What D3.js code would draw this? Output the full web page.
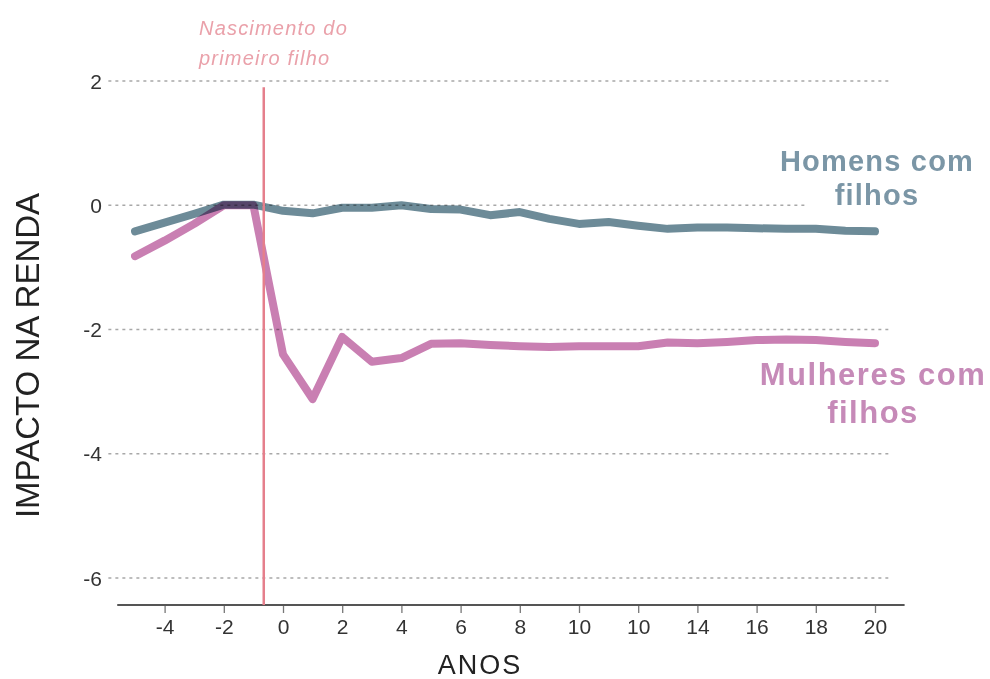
<!DOCTYPE html>
<html>
<head>
<meta charset="utf-8">
<script src="https://cdn.jsdelivr.net/npm/d3@7"></script>
<style>
  html, body { margin: 0; padding: 0; background: #fff; }
  svg { display: block; font-family: "Liberation Sans", Arial, sans-serif; }
</style>
</head>
<body>
<svg id="chart" width="990" height="679"></svg>
<script>
// ---- data ----
const years = [-5,-4,-3,-2,-1,0,1,2,3,4,5,6,7,8,9,10,11,12,13,14,15,16,17,18,19,20];
const men   = [-0.42,-0.28,-0.14,0.01,0.01,-0.09,-0.13,-0.04,-0.04,0.0,-0.06,-0.07,-0.16,-0.11,-0.22,-0.30,-0.27,-0.33,-0.38,-0.36,-0.36,-0.37,-0.38,-0.38,-0.41,-0.42];
const women = [-0.82,-0.57,-0.30,0.0,0.0,-2.40,-3.12,-2.12,-2.52,-2.46,-2.23,-2.22,-2.25,-2.27,-2.28,-2.27,-2.27,-2.27,-2.21,-2.22,-2.20,-2.17,-2.16,-2.17,-2.20,-2.22];
const xTickValues = [-4,-2,0,2,4,6,8,10,12,14,16,18,20];
const xTickLabels = ["-4","-2","0","2","4","6","8","10","10","14","16","18","20"];
const yTickValues = [2,0,-2,-4,-6];
const yTickLabels = ["2","0","-2","-4","-6"];
const birthYear = -0.65;

// ---- layout ----
const svg = d3.select("#chart");
const x = d3.scaleLinear().domain([0, 20]).range([283, 875]);
const y = d3.scaleLinear().domain([2, -6]).range([81, 578]);
const axisY = 605;

// gridlines
const gridColor = "#a8a8a8";
yTickValues.forEach(v => {
  svg.append("line")
    .attr("x1", x(-5.9)).attr("x2", x(20.45))
    .attr("y1", y(v)).attr("y2", y(v))
    .attr("stroke", gridColor).attr("stroke-width", 1.6)
    .attr("stroke-dasharray", "3,4");
});

// y tick labels
svg.append("g").selectAll("text").data(yTickValues).join("text")
  .attr("x", 102).attr("y", d => y(d))
  .attr("dy", "0.36em")
  .attr("text-anchor", "end")
  .attr("font-size", 21).attr("fill", "#333")
  .text((d,i) => yTickLabels[i]);

// x axis
const xAxis = d3.axisBottom(x)
  .tickValues(xTickValues)
  .tickSize(8)
  .tickPadding(6)
  .tickFormat((d,i) => xTickLabels[i]);
const gx = svg.append("g").attr("transform", `translate(0,${axisY})`).call(xAxis);
gx.select(".domain").remove();
gx.append("line").attr("x1", x(-5.6)).attr("x2", x(21)).attr("stroke", "#555").attr("stroke-width", 2);
gx.selectAll(".tick line").attr("stroke", "#777").attr("stroke-width", 1.3);
gx.selectAll(".tick text").attr("font-size", 21).attr("fill", "#333")
  .attr("font-family", '"Liberation Sans", Arial, sans-serif');

// axis titles
svg.append("text")
  .attr("x", 480).attr("y", 674)
  .attr("text-anchor", "middle")
  .attr("font-size", 27).attr("fill", "#222")
  .attr("letter-spacing", 2)
  .text("ANOS");
svg.append("text")
  .attr("transform", `translate(39,${(183+528)/2}) rotate(-90)`)
  .attr("text-anchor", "middle")
  .attr("font-size", 33).attr("fill", "#222")
  .text("IMPACTO NA RENDA");

// lines
const line = d3.line().x((d,i) => x(years[i])).y(d => y(d));
svg.append("path").datum(women)
  .attr("d", line).attr("fill", "none")
  .attr("stroke", "#c97fb2").attr("stroke-width", 8)
  .attr("stroke-linecap", "round").attr("stroke-linejoin", "round")
  .style("mix-blend-mode", "multiply");
svg.append("path").datum(men)
  .attr("d", line).attr("fill", "none")
  .attr("stroke", "#6d8b98").attr("stroke-width", 8)
  .attr("stroke-linecap", "round").attr("stroke-linejoin", "round")
  .style("mix-blend-mode", "multiply");

// birth line
svg.append("line")
  .attr("x1", x(birthYear)).attr("x2", x(birthYear))
  .attr("y1", y(1.9)).attr("y2", axisY)
  .attr("stroke", "#e57f8c").attr("stroke-width", 2.5);

// annotation
const ann = svg.append("text")
  .attr("font-size", 20).attr("font-style", "italic")
  .attr("fill", "#eaa1aa").attr("letter-spacing", 1.2);
ann.append("tspan").attr("x", 199).attr("y", 35).text("Nascimento do");
ann.append("tspan").attr("x", 199).attr("y", 65).text("primeiro filho");

// series labels
function label(lines, cx, baselines, size, ls, color, bg) {
  const g = svg.append("g");
  lines.forEach((t, i) => {
    const tx = g.append("text")
      .attr("x", cx).attr("y", baselines[i])
      .attr("text-anchor", "middle")
      .attr("font-size", size).attr("font-weight", "bold")
      .attr("letter-spacing", ls)
      .attr("fill", color).text(t);
    if (bg && bg[i]) {
      const b = tx.node().getBBox();
      g.insert("rect", "text")
        .attr("x", b.x - bg[i]).attr("y", b.y)
        .attr("width", b.width + 2 * bg[i]).attr("height", b.height)
        .attr("fill", "#fff");
    }
  });
}
label(["Homens com", "filhos"], 877, [171, 205], 29, 1.2, "#7b96a6", [0, 28]);
label(["Mulheres com", "filhos"], 873, [385, 423], 31, 1.5, "#c68ab8", null);
</script>
</body>
</html>
